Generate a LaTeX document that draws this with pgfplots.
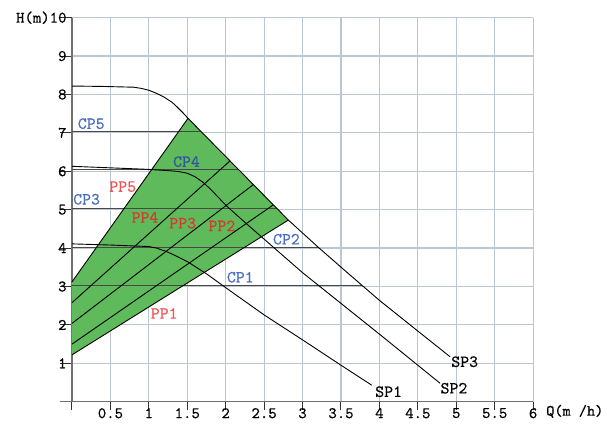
\documentclass[border=0pt]{standalone}
\usepackage{fontspec}
\setmonofont{lmmono10-regular.otf}[FakeBold=0.45]
\usepackage{pgfplots}
\pgfplotsset{compat=1.18}

\definecolor{gridc}{RGB}{188,198,206}
\definecolor{axisc}{RGB}{112,112,112}
\definecolor{tickc}{RGB}{50,50,50}
\definecolor{fillg}{RGB}{94,186,90}
\definecolor{cpline}{RGB}{72,72,72}
\definecolor{cpblue}{RGB}{72,108,192}
\definecolor{cpdark}{RGB}{48,84,158}
\definecolor{ppred}{RGB}{240,84,84}
\definecolor{ppdark}{RGB}{214,58,46}

% speed curves SP1..SP3 (Q in m^3/h, H in m)
\pgfplotstableread{
x y
0 8.22
0.4 8.21
0.8 8.19
0.9 8.16
1.0 8.11
1.1 8.03
1.2 7.93
1.3 7.80
1.36 7.69
1.45 7.51
1.51 7.38
2.056 6.271
2.815 4.73
3.205 4.02
3.6 3.33
4.0 2.64
4.5 1.84
4.92 1.17
}\spthree

\pgfplotstableread{
x y
0 6.13
0.5 6.09
1.0 6.05
1.3 6.01
1.4 5.99
1.5 5.95
1.6 5.86
1.7 5.72
1.8 5.54
1.9 5.33
2.01 5.10
2.25 4.67
3.0 3.36
3.5 2.56
4.0 1.76
4.79 0.48
}\sptwo

\pgfplotstableread{
x y
0 4.11
0.5 4.08
1.0 4.04
1.1 4.00
1.23 3.91
1.35 3.80
1.5 3.65
1.75 3.33
2.0 2.97
2.5 2.26
3.0 1.61
3.5 0.95
3.9 0.43
}\spone

\begin{document}
\begin{tikzpicture}
\begin{axis}[
  scale only axis,
  width=461.1pt, height=384pt,
  xmin=0, xmax=6, ymin=0, ymax=10,
  axis x line*=bottom, axis y line*=left,
  axis line style={-, draw=axisc, line width=1.4pt},
  xtick={0,0.5,...,6},
  xticklabels={,0.5,1,1.5,2,2.5,3,3.5,4,4.5,5,5.5,6},
  ytick={1,...,10},
  yticklabels={1,2,3,4,5,6,7,8,9,H(m)10},
  tick align=outside,
  xtick style={draw=tickc, line width=1pt, /pgfplots/major tick length=8pt},
  ytick style={draw=tickc, line width=1pt, /pgfplots/major tick length=12pt},
  tick label style={font=\fontsize{16}{18}\selectfont\ttfamily, inner sep=1pt},
  xticklabel style={yshift=-1pt},
  grid=major,
  major grid style={draw=gridc, line width=1.2pt},
  clip=false,
]
\coordinate (o) at (axis cs:0,0);

% operating range of the proportional-pressure mode
\addplot[fill=fillg, draw=none] coordinates {(0,1.22) (2.815,4.73) (1.51,7.38) (0,3.12)} -- cycle;

% constant-pressure lines CP1..CP5
\addplot[cpline, line width=1.4pt] coordinates {(0,3.02) (3.77,3.02)};
\addplot[cpline, line width=1.4pt] coordinates {(0,4.01) (3.2,4.01)};
\addplot[cpline, line width=1.4pt] coordinates {(0,5.03) (2.667,5.03)};
\addplot[cpline, line width=1.4pt] coordinates {(0,6.05) (2.165,6.05)};
\addplot[cpline, line width=1.4pt] coordinates {(0,7.03) (1.682,7.03)};

% proportional-pressure lines PP1..PP5
\addplot[black, line width=0.9pt] coordinates {(0,1.22) (2.815,4.73)};
\addplot[black, line width=0.9pt] coordinates {(0,1.50) (2.62,5.126)};
\addplot[black, line width=0.9pt] coordinates {(0,2.04) (2.36,5.654)};
\addplot[black, line width=0.9pt] coordinates {(0,2.58) (2.056,6.271)};
\addplot[black, line width=0.9pt] coordinates {(0,3.12) (1.51,7.38)};

% fixed-speed curves
\addplot[black, line width=0.9pt] table {\spthree};
\addplot[black, line width=0.9pt] table {\sptwo};
\addplot[black, line width=0.9pt] table {\spone};

% left stub of the Q axis
\draw[axisc, line width=1.4pt] (axis cs:-0.155,0) -- (axis cs:0,0);

\tikzset{lab/.style={font=\fontsize{17}{19}\selectfont\ttfamily, inner sep=0pt}}
\node[lab, cpblue] at (axis cs:0.25,7.24) {CP5};
\node[lab, cpdark] at (axis cs:1.49,6.25) {CP4};
\node[lab, cpblue] at (axis cs:0.19,5.27) {CP3};
\node[lab, cpblue] at (axis cs:2.79,4.23) {CP2};
\node[lab, cpblue] at (axis cs:2.19,3.24) {CP1};
\node[lab, ppred]  at (axis cs:0.66,5.60) {PP5};
\node[lab, ppdark] at (axis cs:0.95,4.80) {PP4};
\node[lab, ppdark] at (axis cs:1.44,4.65) {PP3};
\node[lab, ppdark] at (axis cs:1.95,4.58) {PP2};
\node[lab, ppred]  at (axis cs:1.20,2.30) {PP1};
\node[lab, black]  at (axis cs:5.11,1.04) {SP3};
\node[lab, black]  at (axis cs:4.97,0.35) {SP2};
\node[lab, black]  at (axis cs:4.12,0.26) {SP1};

\node[font=\fontsize{15.5}{18}\selectfont\ttfamily, inner sep=0pt, anchor=west]
  at (axis cs:6,-0.25) [xshift=13pt] {Q(m /h)};
\end{axis}
\pgfresetboundingbox
\path[use as bounding box] ([shift={(-72pt,-23.3pt)}]o) rectangle ([shift={(535pt,401.7pt)}]o);
\end{tikzpicture}
\end{document}
